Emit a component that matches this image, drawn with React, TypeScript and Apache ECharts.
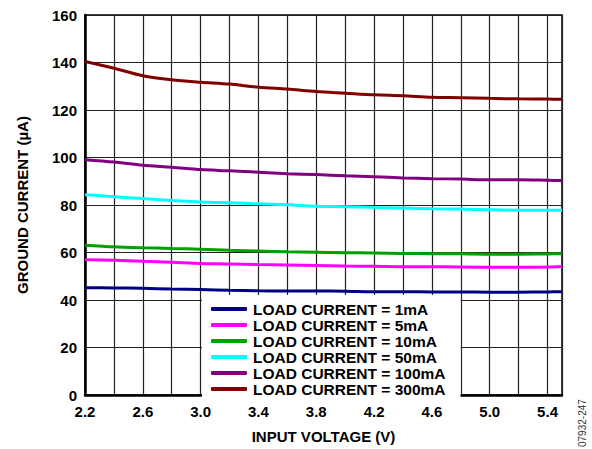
import React, { useEffect, useRef } from "react";
import * as echarts from "echarts";

const xValues = [2.2, 2.4, 2.6, 2.8, 3.0, 3.2, 3.4, 3.6, 3.8, 4.0, 4.2, 4.4, 4.6, 4.8, 5.0, 5.2, 5.4, 5.5];

const seriesNames = [
  "LOAD CURRENT = 1mA",
  "LOAD CURRENT = 5mA",
  "LOAD CURRENT = 10mA",
  "LOAD CURRENT = 50mA",
  "LOAD CURRENT = 100mA",
  "LOAD CURRENT = 300mA",
];

const load1mA = [45.2, 45.1, 44.9, 44.6, 44.4, 44.1, 43.9, 43.8, 43.8, 43.7, 43.5, 43.5, 43.4, 43.4, 43.3, 43.3, 43.4, 43.5];
const load5mA = [57.0, 56.7, 56.3, 55.9, 55.4, 55.2, 54.9, 54.7, 54.5, 54.3, 54.2, 54.0, 54.0, 53.9, 53.8, 53.8, 53.9, 54.1];
const load10mA = [63.1, 62.4, 62.0, 61.7, 61.4, 60.9, 60.6, 60.3, 60.1, 59.9, 59.8, 59.6, 59.5, 59.5, 59.3, 59.3, 59.4, 59.5];
const load50mA = [84.3, 83.5, 82.7, 81.9, 81.3, 80.9, 80.5, 80.1, 79.5, 79.3, 79.0, 78.7, 78.4, 78.3, 78.0, 77.8, 77.8, 77.8];
const load100mA = [99.1, 98.1, 96.7, 95.9, 94.9, 94.4, 93.8, 93.2, 92.8, 92.3, 91.9, 91.4, 91.1, 90.9, 90.6, 90.6, 90.4, 90.3];
const load300mA = [140.4, 137.6, 134.4, 132.7, 131.7, 130.9, 129.6, 128.8, 127.8, 127.1, 126.4, 126.0, 125.4, 125.2, 124.9, 124.7, 124.6, 124.5];

const seriesValues = [load1mA, load5mA, load10mA, load50mA, load100mA, load300mA];
const seriesColors = ["#000080", "#ff00ff", "#00a000", "#00ffff", "#800080", "#800000"];

const FONT = 'Arial, "Liberation Sans", sans-serif';

export default function App() {
  const ref = useRef<HTMLDivElement>(null);

  useEffect(() => {
    if (!ref.current) return;
    const chart = echarts.init(ref.current, null, { renderer: "svg" });
    chart.setOption({
      animation: false,
      backgroundColor: "#fff",
      grid: {
        left: 85,
        top: 15,
        right: 30,
        bottom: 53,
        show: true,
        borderColor: "#000",
        borderWidth: 1.5,
      },
      legend: {
        data: seriesNames,
        orient: "vertical",
        left: 202,
        top: 295,
        backgroundColor: "#fff",
        padding: [6, 15, 1, 9],
        itemGap: 0,
        itemWidth: 36,
        itemHeight: 4,
        icon: "roundRect",
        textStyle: {
          fontFamily: FONT,
          fontWeight: "bold",
          fontSize: 15.5,
          color: "#000",
          lineHeight: 15.7,
          padding: [0, 0, 0, 1],
        },
      },
      xAxis: {
        type: "value",
        min: 2.2,
        max: 5.5,
        interval: 0.2,
        name: "INPUT VOLTAGE (V)",
        nameLocation: "middle",
        nameGap: 34,
        nameTextStyle: { fontFamily: FONT, fontWeight: "bold", fontSize: 15, color: "#000" },
        axisLine: { show: true, lineStyle: { color: "#000", width: 2.5 } },
        axisTick: { show: false },
        axisLabel: {
          margin: 9,
          fontFamily: FONT,
          fontWeight: "bold",
          fontSize: 15,
          color: "#000",
          formatter: (v: number) => {
            const k = Math.round(((v - 2.2) / 0.2) * 100) / 100;
            if (Number.isInteger(k) && k % 2 === 0) return v.toFixed(1);
            return "";
          },
        },
        splitLine: { show: true, lineStyle: { color: "#222", width: 1.2 } },
      },
      yAxis: {
        type: "value",
        min: 0,
        max: 160,
        interval: 20,
        name: "GROUND CURRENT (µA)",
        nameLocation: "middle",
        nameGap: 55,
        nameTextStyle: { fontFamily: FONT, fontWeight: "bold", fontSize: 15, color: "#000" },
        axisLine: { show: true, lineStyle: { color: "#000", width: 2.5 } },
        axisTick: { show: false },
        axisLabel: {
          margin: 8,
          fontFamily: FONT,
          fontWeight: "bold",
          fontSize: 15,
          color: "#000",
        },
        splitLine: { show: true, lineStyle: { color: "#222", width: 1.2 } },
      },
      series: seriesNames.map((name, i) => ({
        name,
        type: "line",
        data: xValues.map((x, j) => [x, seriesValues[i][j]]),
        showSymbol: false,
        smooth: 0.3,
        color: seriesColors[i],
        lineStyle: { width: 3, color: seriesColors[i] },
        z: 3,
      })),
      graphic: [
        {
          type: "text",
          x: 577,
          y: 447,
          rotation: Math.PI / 2,
          style: {
            text: "07932-247",
            fontFamily: FONT,
            fontSize: 10,
            fill: "#333",
          },
        },
      ],
    });
    return () => chart.dispose();
  }, []);

  return (
    <div
      ref={ref}
      style={{ position: "fixed", left: 0, top: 0, width: 592, height: 449 }}
    />
  );
}
